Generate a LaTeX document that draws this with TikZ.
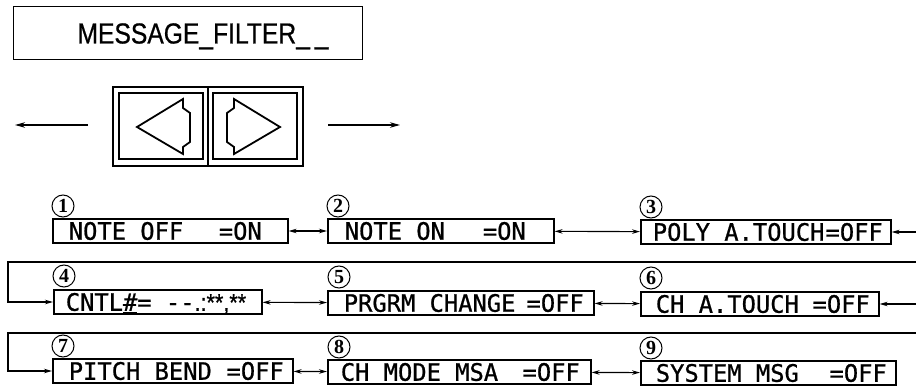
\documentclass[tikz,border=0pt]{standalone}
\usepackage{fontspec}
\setmainfont{Liberation Sans}
\newfontfamily\lcdfont[FakeStretch=0.99,FakeBold=0.8]{DejaVu Sans Mono}
\newfontfamily\punctfont[FakeStretch=0.9,FakeBold=0.8]{Liberation Sans}
\newfontfamily\titlefont[FakeStretch=0.85,FakeBold=0.6]{Liberation Sans}
\newfontfamily\numfont{Liberation Serif}
\usetikzlibrary{arrows.meta}
\newcommand\mfentry[5]{\makebox[#1pt][l]{\hspace*{#2pt}#4\hfill#5\hspace*{#3pt}}}
\tikzset{
  mfbox/.style={draw, line width=1.6pt, inner sep=0pt, anchor=west, minimum height=24pt,
    text height=17.5pt, text depth=0pt, font=\lcdfont\fontsize{24}{24}\selectfont},
  numc/.style={circle, draw, line width=1pt, inner sep=0pt, minimum size=22pt,
    font=\numfont\bfseries\fontsize{20}{20}\selectfont},
  conn/.style={line width=1.1pt},
  btn/.style={line width=2.4pt},
  bigarrow/.style={line width=1.3pt, -{Stealth[length=10pt,width=5.5pt]}},
  >={Stealth[length=8pt,width=4.5pt]}
}
\begin{document}
\begin{tikzpicture}[x=1pt,y=-1pt]
\useasboundingbox (0,0) rectangle (916,390);
% title
\node[draw, line width=1pt, inner sep=0pt, anchor=west, minimum height=53pt,
  text height=20pt, text depth=0pt, font=\titlefont\fontsize{29}{29}\selectfont]
  (title) at (13,33.5) {\makebox[349pt][l]{\hspace*{64pt}MESSAGE\_FILTER\_\,\_}};
% buttons
\draw[btn] (113,87) rectangle (303,166);
\draw[line width=1.8pt] (208,87) -- (208,166);
\draw[btn] (119,93) rectangle (203,159);
\draw[btn] (213,93) rectangle (297,159);
\draw[line width=1.8pt, line join=miter] (137,127) -- (183,99) -- (183,108) -- (190,113) -- (190,142) -- (183,147) -- (183,154) -- cycle;
\draw[line width=1.8pt, line join=miter] (280,127) -- (234,99) -- (234,108) -- (227,113) -- (227,142) -- (234,147) -- (234,154) -- cycle;
\coordinate (la1) at (88,125); \coordinate (la2) at (15,125);
\coordinate (ra1) at (328,125); \coordinate (ra2) at (400,125);
\draw[bigarrow] (la1) -- (la2);
\draw[bigarrow] (ra1) -- (ra2);
% row 1
\node[mfbox] (b1) at (52,231) {\mfentry{235}{16}{26}{NOTE OFF}{=ON}};
\node[mfbox] (b2) at (327,231) {\mfentry{226}{17}{28}{NOTE ON}{=ON}};
\node[mfbox] (b3) at (640,232) {\mfentry{250}{12}{8}{POLY A.TOUCH}{=OFF}};
\node[numc] (n1) at (63,206) {1};
\node[numc] (n2) at (338,206) {2};
\node[numc] (n3) at (651,207) {3};
% row 2
\node[mfbox] (b4) at (53,302) {\mfentry{208}{12}{8}{CNTL\underline{\#}= -{}-{\punctfont .:**,**}}{}};
\node[mfbox] (b5) at (327,303) {\mfentry{266}{16}{10}{PRGRM CHANGE}{=OFF}};
\node[mfbox] (b6) at (640,304) {\mfentry{238}{15}{9}{CH A.TOUCH}{=OFF}};
\node[numc] (n4) at (64,276) {4};
\node[numc] (n5) at (339,277) {5};
\node[numc] (n6) at (651,278) {6};
% row 3
\node[mfbox] (b7) at (52,371) {\mfentry{240}{16}{9}{PITCH BEND}{=OFF}};
\node[mfbox] (b8) at (327,372) {\mfentry{263}{13}{11}{CH MODE MSA}{=OFF}};
\node[mfbox] (b9) at (640,373) {\mfentry{255}{15}{9}{SYSTEM MSG}{=OFF}};
\node[numc] (n7) at (63,346) {7};
\node[numc] (n8) at (339,347) {8};
\node[numc] (n9) at (651,348) {9};
% connectors
\draw[conn,<->] (b1) -- (b2);
\draw[conn,<->] (b2) -- (b3);
\coordinate (r1) at (916,232);
\draw[conn,->] (r1) -- (b3.east);
\coordinate (w1) at (916,262); \coordinate (w1l) at (8,262);
\draw[conn,->] (w1) -- (w1l) |- (b4.west);
\draw[conn,<->] (b4) -- (b5);
\draw[conn,<->] (b5) -- (b6);
\coordinate (r2) at (916,304);
\draw[conn,->] (r2) -- (b6.east);
\coordinate (w2) at (916,333); \coordinate (w2l) at (8,333);
\draw[conn,->] (w2) -- (w2l) |- (b7.west);
\draw[conn,<->] (b7) -- (b8);
\draw[conn,<->] (b8) -- (b9);
\end{tikzpicture}
\end{document}
